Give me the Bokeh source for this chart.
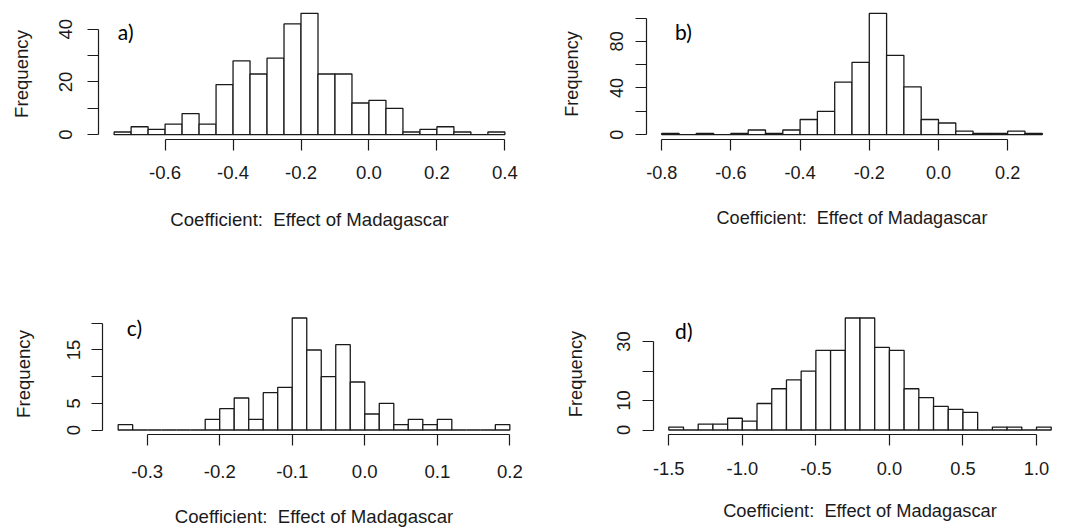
from bokeh.plotting import figure
from bokeh.layouts import column, row
from bokeh.models import Range1d, FixedTicker, Label
from bokeh.embed import file_html
from bokeh.resources import INLINE
import numpy as np

# ---- data ----
a_start, a_width = -0.75, 0.05
a_counts = [1, 3, 2, 4, 8, 4, 19, 28, 23, 29, 42, 46, 23, 23, 12, 13, 10, 1, 2, 3, 1, 0, 1]
a_xticks = [-0.6, -0.4, -0.2, 0.0, 0.2, 0.4]
a_xlabels = ["-0.6", "-0.4", "-0.2", "0.0", "0.2", "0.4"]
a_yticks = [0, 10, 20, 30, 40]
a_ylabels = ["0", "", "20", "", "40"]

b_start, b_width = -0.80, 0.05
b_counts = [1, 0, 1, 0, 1, 4, 1, 4, 13, 20, 45, 62, 104, 68, 41, 13, 10, 3, 1, 1, 3, 1]
b_xticks = [-0.8, -0.6, -0.4, -0.2, 0.0, 0.2]
b_xlabels = ["-0.8", "-0.6", "-0.4", "-0.2", "0.0", "0.2"]
b_yticks = [0, 20, 40, 60, 80, 100]
b_ylabels = ["0", "", "40", "", "80", ""]

c_start, c_width = -0.34, 0.02
c_counts = [1, 0, 0, 0, 0, 0, 2, 4, 6, 2, 7, 8, 21, 15, 10, 16, 9, 3, 5, 1, 2, 1, 2, 0, 0, 0, 1]
c_xticks = [-0.3, -0.2, -0.1, 0.0, 0.1, 0.2]
c_xlabels = ["-0.3", "-0.2", "-0.1", "0.0", "0.1", "0.2"]
c_yticks = [0, 5, 10, 15, 20]
c_ylabels = ["0", "5", "", "15", ""]

d_start, d_width = -1.5, 0.1
d_counts = [1, 0, 2, 2, 4, 3, 9, 14, 17, 20, 27, 27, 38, 38, 28, 27, 14, 11, 8, 7, 6, 0, 1, 1, 0, 1]
d_xticks = [-1.5, -1.0, -0.5, 0.0, 0.5, 1.0]
d_xlabels = ["-1.5", "-1.0", "-0.5", "0.0", "0.5", "1.0"]
d_yticks = [0, 10, 20, 30]
d_ylabels = ["0", "10", "", "30"]

panel_tags = ["a)", "b)", "c)", "d)"]
x_title = "Coefficient:\u00a0 Effect of Madagascar"
y_title = "Frequency"

FONT = "Liberation Sans"
INK = "#1a1a1a"


def hist_panel(counts, start, width, xt, xl, yt, yl, tag, tag_pos, W, H, borders,
               std, fs):
    n = len(counts)
    edges = start + width * np.arange(n + 1)
    lo, hi = edges[0], edges[-1]
    pad = 0.04 * (hi - lo)
    ymax = max(counts)
    p = figure(width=W, height=H, output_backend="svg", toolbar_location=None,
               x_range=Range1d(lo - pad, hi + pad),
               y_range=Range1d(-0.04 * ymax, 1.04 * ymax),
               min_border_left=borders[0], min_border_right=borders[1],
               min_border_top=borders[2], min_border_bottom=borders[3])
    p.outline_line_color = None
    p.grid.visible = False
    p.background_fill_color = "white"
    p.border_fill_color = "white"
    p.quad(left=edges[:-1], right=edges[1:], bottom=0, top=counts,
           fill_color="white", line_color=INK, line_width=1.3)

    for ax, ticks, labels in ((p.xaxis[0], xt, xl), (p.yaxis[0], yt, yl)):
        ax.ticker = FixedTicker(ticks=ticks)
        ax.major_label_overrides = {t: s for t, s in zip(ticks, labels)}
        ax.bounds = (ticks[0], ticks[-1])
        ax.axis_line_color = INK
        ax.axis_line_width = 1.2
        ax.major_tick_line_color = INK
        ax.major_tick_line_width = 1.2
        ax.major_tick_out = 11
        ax.major_tick_in = 0
        ax.minor_tick_out = 0
        ax.minor_tick_in = 0
        ax.major_label_text_font = FONT
        ax.major_label_text_font_size = "%.1fpx" % fs
        ax.major_label_text_color = INK
        ax.axis_label_text_font = FONT
        ax.axis_label_text_font_size = "%.1fpx" % fs
        ax.axis_label_text_font_style = "normal"
        ax.axis_label_text_color = INK
    p.xaxis.axis_label = x_title
    p.yaxis.axis_label = y_title
    p.yaxis.major_label_orientation = "vertical"
    p.xaxis.major_label_standoff = std[0]
    p.xaxis.axis_label_standoff = std[1]
    p.yaxis.major_label_standoff = std[2]
    p.yaxis.axis_label_standoff = std[3]

    p.add_layout(Label(x=tag_pos[0], y=tag_pos[1], text=tag, text_font="Lato",
                       text_font_size="21px", text_color="black",
                       text_baseline="middle", text_align="left"))
    return p


pa = hist_panel(a_counts, a_start, a_width, a_xticks, a_xlabels, a_yticks, a_ylabels,
                panel_tags[0], (-0.739, 39.1), 540, 290, (98, 20, 4, 150),
                (15, 27, 15, 25), 18.6)
pb = hist_panel(b_counts, b_start, b_width, b_xticks, b_xlabels, b_yticks, b_ylabels,
                panel_tags[1], (-0.7615, 88.1), 535, 290, (106, 18, 8, 151),
                (15, 26, 12, 26), 18.1)
pc = hist_panel(c_counts, c_start, c_width, c_xticks, c_xlabels, c_yticks, c_ylabels,
                panel_tags[2], (-0.328, 19.2), 540, 239, (102, 15, 12, 92),
                (19, 25, 11, 31), 18.6)
pd = hist_panel(d_counts, d_start, d_width, d_xticks, d_xlabels, d_yticks, d_ylabels,
                panel_tags[3], (-1.457, 33.7), 535, 239, (113, 9, 23, 93),
                (16, 22, 12, 29), 18.3)

layout = column(row(pa, pb), row(pc, pd))
open("out.html", "w").write(file_html(layout, INLINE))
